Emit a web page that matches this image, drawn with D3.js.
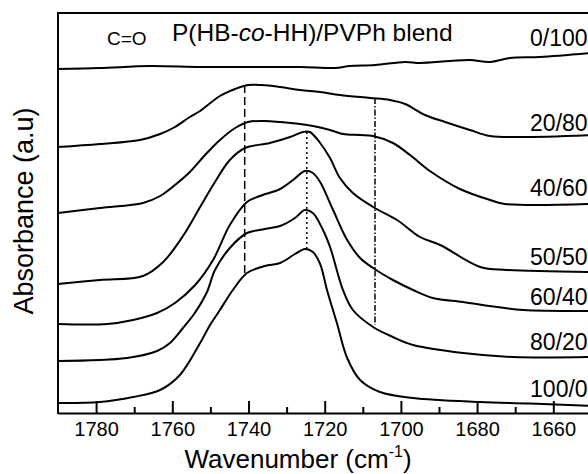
<!DOCTYPE html>
<html>
<head>
<meta charset="utf-8">
<script src="https://cdn.jsdelivr.net/npm/d3@7/dist/d3.min.js"></script>
<style>
  html, body { margin: 0; padding: 0; background: #fff; }
  svg { display: block; }
  text { font-family: "Liberation Sans", Arial, Helvetica, sans-serif; fill: #000; }
</style>
</head>
<body>
<svg id="chart" width="588" height="474"></svg>
<script>
// ---- data (wavenumber cm^-1, absorbance a.u. with vertical offsets) ----
const blendLabels = ["0/100", "20/80", "40/60", "50/50", "60/40", "80/20", "100/0"];

const wn_0_100  = [1790, 1779.0, 1765.9, 1752.7, 1739.6, 1726.5, 1717.3, 1713.4, 1706.8, 1698.9, 1695.0, 1687.1, 1681.9, 1676.6, 1671.4, 1663.5, 1650];
const abs_0_100 = [3.44, 3.45, 3.47, 3.46, 3.46, 3.46, 3.45, 3.47, 3.48, 3.51, 3.50, 3.52, 3.53, 3.51, 3.55, 3.56, 3.60];

const wn_20_80  = [1790, 1779.0, 1768.5, 1763.2, 1759.3, 1755.4, 1752.7, 1747.5, 1743.5, 1740.1, 1736.5, 1731.7, 1726.5, 1721.2, 1716.0, 1708.1, 1702.9, 1698.9, 1693.7, 1688.4, 1681.9, 1676.6, 1668.7, 1650];
const abs_20_80 = [2.66, 2.69, 2.73, 2.79, 2.86, 2.96, 3.02, 3.17, 3.24, 3.28, 3.28, 3.26, 3.23, 3.21, 3.18, 3.15, 3.13, 3.09, 2.98, 2.91, 2.83, 2.77, 2.76, 2.78];

const wn_40_60  = [1790, 1779.0, 1767.7, 1763.2, 1759.3, 1755.4, 1751.4, 1747.5, 1743.5, 1740.1, 1735.7, 1731.7, 1726.5, 1723.1, 1718.6, 1715.2, 1710.7, 1707.3, 1702.1, 1697.6, 1692.4, 1684.5, 1676.6, 1672.7, 1650];
const abs_40_60 = [2.00, 2.05, 2.10, 2.17, 2.28, 2.41, 2.58, 2.73, 2.85, 2.91, 2.92, 2.91, 2.89, 2.87, 2.83, 2.79, 2.78, 2.77, 2.70, 2.58, 2.42, 2.24, 2.13, 2.09, 2.09];

const wn_50_50  = [1790, 1779.0, 1767.7, 1762.4, 1757.2, 1752.7, 1748.8, 1744.9, 1740.9, 1734.4, 1729.1, 1725.7, 1723.9, 1721.2, 1718.6, 1716.0, 1712.6, 1707.3, 1701.0, 1695.0, 1689.7, 1679.2, 1672.2, 1650];
const abs_50_50 = [1.29, 1.33, 1.37, 1.51, 1.77, 2.06, 2.31, 2.53, 2.65, 2.70, 2.76, 2.81, 2.81, 2.70, 2.55, 2.35, 2.20, 2.06, 1.93, 1.76, 1.68, 1.46, 1.43, 1.41];

const wn_60_40  = [1790, 1777.1, 1770.3, 1764.0, 1759.3, 1754.0, 1749.3, 1744.9, 1740.4, 1737.0, 1731.7, 1728.3, 1725.2, 1723.1, 1721.2, 1717.8, 1714.1, 1710.7, 1707.3, 1702.1, 1696.8, 1691.6, 1683.7, 1674.8, 1667.9, 1650];
const abs_60_40 = [0.89, 0.89, 0.93, 1.00, 1.10, 1.28, 1.53, 1.88, 2.11, 2.17, 2.24, 2.33, 2.42, 2.40, 2.31, 2.03, 1.73, 1.55, 1.45, 1.33, 1.23, 1.15, 1.11, 1.06, 1.03, 1.02];

const wn_80_20  = [1790, 1771.9, 1764.0, 1760.6, 1757.2, 1754.1, 1750.9, 1748.8, 1744.9, 1740.4, 1735.7, 1731.7, 1727.8, 1725.2, 1723.1, 1720.7, 1718.6, 1715.2, 1712.6, 1707.3, 1702.1, 1696.8, 1683.7, 1670.6, 1650];
const abs_80_20 = [0.52, 0.55, 0.62, 0.70, 0.85, 1.00, 1.21, 1.43, 1.65, 1.80, 1.84, 1.87, 1.95, 2.03, 2.00, 1.85, 1.66, 1.23, 1.03, 0.86, 0.76, 0.68, 0.60, 0.56, 0.56];

const wn_100_0  = [1790, 1779.0, 1770.3, 1763.2, 1758.0, 1752.7, 1750.1, 1747.5, 1744.1, 1740.4, 1735.7, 1731.7, 1727.8, 1725.2, 1723.1, 1721.2, 1719.4, 1716.8, 1714.1, 1710.7, 1705.5, 1696.8, 1679.2, 1666.1, 1650];
const abs_100_0 = [0.10, 0.11, 0.16, 0.23, 0.38, 0.70, 0.88, 1.03, 1.23, 1.40, 1.47, 1.50, 1.59, 1.64, 1.61, 1.49, 1.23, 0.90, 0.55, 0.33, 0.21, 0.15, 0.11, 0.095, 0.07];

// label anchor positions (wavenumber, absorbance of text baseline)
const labelWn  = 1666.1;
const labelAbs = [3.67, 2.82, 2.17, 1.48, 1.08, 0.63, 0.16];

// reference lines: [wavenumber, top abs, bottom abs]
const refDashed  = [1741.0, 3.28, 1.40];
const refDotted  = [1724.7, 2.81, 1.64];
const refDashDot = [1706.8, 3.15, 0.88];

const majorTicks = [1780, 1760, 1740, 1720, 1700, 1680, 1660];
const minorTicks = [1770, 1750, 1730, 1710, 1690, 1670];

// ---- layout ----
const svg = d3.select("#chart");
const plotLeft = 58, plotTop = 13, plotBottom = 413, plotRight = 591.4;
const x = d3.scaleLinear().domain([1790, 1650]).range([plotLeft, plotRight]);
const y = d3.scaleLinear().domain([0, 4]).range([plotBottom, plotTop]);

const series = [
  [wn_0_100, abs_0_100], [wn_20_80, abs_20_80], [wn_40_60, abs_40_60],
  [wn_50_50, abs_50_50], [wn_60_40, abs_60_40], [wn_80_20, abs_80_20],
  [wn_100_0, abs_100_0]
];

const line = d3.line().x(d => x(d[0])).y(d => y(d[1])).curve(d3.curveCatmullRom.alpha(0.5));

series.forEach(([w, a]) => {
  svg.append("path")
    .datum(w.map((v, i) => [v, a[i]]))
    .attr("d", line)
    .attr("fill", "none")
    .attr("stroke", "#000")
    .attr("stroke-width", 2)
    .attr("stroke-linejoin", "round");
});

function refLine(r, dash) {
  svg.append("line")
    .attr("x1", x(r[0])).attr("x2", x(r[0]))
    .attr("y1", y(r[1])).attr("y2", y(r[2]))
    .attr("stroke", "#000").attr("stroke-width", 1.5)
    .attr("stroke-dasharray", dash);
}
refLine(refDashed, "8,4");
refLine(refDotted, "2,3");
refLine(refDashDot, "6,2,1.5,2");

// labels
blendLabels.forEach((t, i) => {
  svg.append("text")
    .attr("x", x(labelWn)).attr("y", y(labelAbs[i]))
    .attr("font-size", 23)
    .text(t);
});

// axes
const xAxis = svg.append("g")
  .attr("transform", `translate(0,${plotBottom})`)
  .call(d3.axisBottom(x).tickValues(majorTicks).tickFormat(d3.format("d"))
        .tickSize(-12).tickSizeOuter(0).tickPadding(9));
xAxis.select(".domain").attr("stroke-width", 2);
xAxis.selectAll(".tick line").attr("stroke-width", 2);
xAxis.selectAll(".tick text").attr("font-size", 20)
  .style("font-family", '"Liberation Sans", Arial, sans-serif');

const xMinor = svg.append("g")
  .attr("transform", `translate(0,${plotBottom})`)
  .call(d3.axisBottom(x).tickValues(minorTicks).tickFormat("")
        .tickSize(-6).tickSizeOuter(0));
xMinor.select(".domain").remove();
xMinor.selectAll(".tick line").attr("stroke-width", 2);

// frame: left and top
svg.append("line").attr("x1", plotLeft).attr("x2", plotLeft).attr("y1", plotTop - 1).attr("y2", plotBottom + 1)
  .attr("stroke", "#000").attr("stroke-width", 2);
svg.append("line").attr("x1", plotLeft).attr("x2", plotRight).attr("y1", plotTop).attr("y2", plotTop)
  .attr("stroke", "#000").attr("stroke-width", 2);

// titles
svg.append("text").attr("x", 107).attr("y", 45).attr("font-size", 19).text("C=O");
const title = svg.append("text").attr("x", 172).attr("y", 41).attr("font-size", 24.5);
title.append("tspan").text("P(HB-");
title.append("tspan").attr("font-style", "italic").text("co");
title.append("tspan").text("-HH)/PVPh blend");

const xt = svg.append("text").attr("x", 298).attr("y", 468).attr("text-anchor", "middle").attr("font-size", 26);
xt.append("tspan").text("Wavenumber (cm");
xt.append("tspan").attr("font-size", 16).attr("dy", -11).text("-1");
xt.append("tspan").attr("dy", 11).text(")");

svg.append("text")
  .attr("transform", "translate(33,211) rotate(-90)")
  .attr("text-anchor", "middle").attr("font-size", 27)
  .text("Absorbance (a.u)");
</script>
</body>
</html>
